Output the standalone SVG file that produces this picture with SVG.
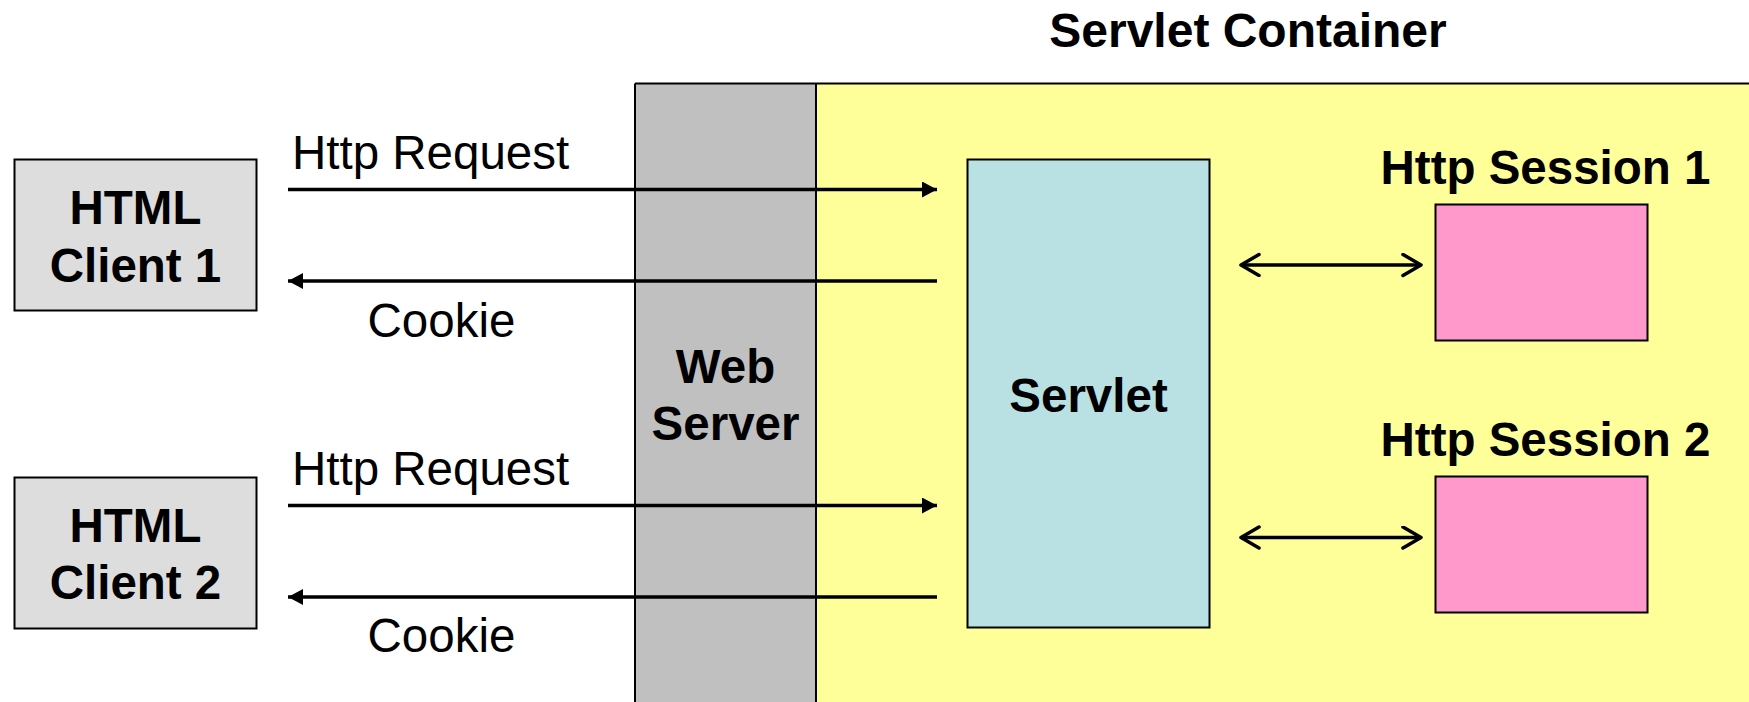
<svg xmlns="http://www.w3.org/2000/svg" width="1749" height="702" viewBox="0 0 1749 702">
  <style>
    .box { stroke: #000; stroke-width: 2; }
    .bold { font-family: "Liberation Sans", Arial, sans-serif; font-weight: bold; font-size: 47.5px; fill: #000; }
    .title { font-size: 48px; }
    .label { font-family: "Liberation Sans", Arial, sans-serif; font-size: 47.5px; fill: #000; }
    .flow { stroke: #000; stroke-width: 3.5; fill: none; }
    .link { stroke: #000; stroke-width: 3.5; fill: none; }
  </style>
  <defs>
    <marker id="solid" markerUnits="userSpaceOnUse" markerWidth="18" markerHeight="18" refX="15" refY="8" orient="auto-start-reverse">
      <path d="M0,0 L15,8 L0,16 Z" fill="#000"/>
    </marker>
    <marker id="open" markerUnits="userSpaceOnUse" markerWidth="24" markerHeight="26" refX="20" refY="12" orient="auto-start-reverse">
      <path d="M2,1.5 L20,12 L2,22.5" fill="none" stroke="#000" stroke-width="3.5" stroke-linecap="round" stroke-linejoin="round"/>
    </marker>
  </defs>

  <rect width="1749" height="702" fill="#fff"/>

  <!-- servlet container area and web server column -->
  <g id="container">
    <rect x="816" y="83.5" width="940" height="630" fill="#FFFF99"/>
    <rect x="635" y="83.5" width="181" height="630" fill="#C0C0C0"/>
    <path d="M635,83.5 H1749 M635,83.5 V702 M816,83.5 V702" stroke="#000" stroke-width="2" fill="none"/>
    <text class="bold title" x="1248" y="47" text-anchor="middle">Servlet Container</text>
  </g>

  <g id="web-server">
    <text class="bold" x="725.5" y="383" text-anchor="middle">Web</text>
    <text class="bold" x="725.5" y="440" text-anchor="middle">Server</text>
  </g>

  <g id="client1">
    <rect class="box" x="14.5" y="159.5" width="242" height="151" fill="#DDDDDD"/>
    <text class="bold" x="135.5" y="224" text-anchor="middle">HTML</text>
    <text class="bold" x="135.5" y="281.5" text-anchor="middle">Client 1</text>
  </g>

  <g id="client2">
    <rect class="box" x="14.5" y="477.5" width="242" height="151" fill="#DDDDDD"/>
    <text class="bold" x="135.5" y="541.5" text-anchor="middle">HTML</text>
    <text class="bold" x="135.5" y="599" text-anchor="middle">Client 2</text>
  </g>

  <g id="servlet">
    <rect class="box" x="967.5" y="159.5" width="242" height="468" fill="#B9E0E3"/>
    <text class="bold" x="1088.5" y="411.5" text-anchor="middle">Servlet</text>
  </g>

  <g id="session1">
    <text class="bold" x="1545.5" y="183.5" text-anchor="middle">Http Session 1</text>
    <rect class="box" x="1435.5" y="204.5" width="212" height="136" fill="#FF99CC"/>
  </g>

  <g id="session2">
    <text class="bold" x="1545.5" y="455.5" text-anchor="middle">Http Session 2</text>
    <rect class="box" x="1435.5" y="476.5" width="212" height="136" fill="#FF99CC"/>
  </g>

  <g id="connectors">
    <line class="flow" x1="288" y1="189.5" x2="937" y2="189.5" marker-end="url(#solid)"/>
    <line class="flow" x1="937" y1="281" x2="288" y2="281" marker-end="url(#solid)"/>
    <line class="flow" x1="288" y1="505.5" x2="937" y2="505.5" marker-end="url(#solid)"/>
    <line class="flow" x1="937" y1="597" x2="288" y2="597" marker-end="url(#solid)"/>
    <line class="link" x1="1241" y1="265" x2="1421" y2="265" marker-start="url(#open)" marker-end="url(#open)"/>
    <line class="link" x1="1241" y1="537.5" x2="1421" y2="537.5" marker-start="url(#open)" marker-end="url(#open)"/>
    <text class="label" x="292" y="168.5">Http Request</text>
    <text class="label" x="367.5" y="336.5">Cookie</text>
    <text class="label" x="292" y="485">Http Request</text>
    <text class="label" x="367.5" y="652">Cookie</text>
  </g>
</svg>
